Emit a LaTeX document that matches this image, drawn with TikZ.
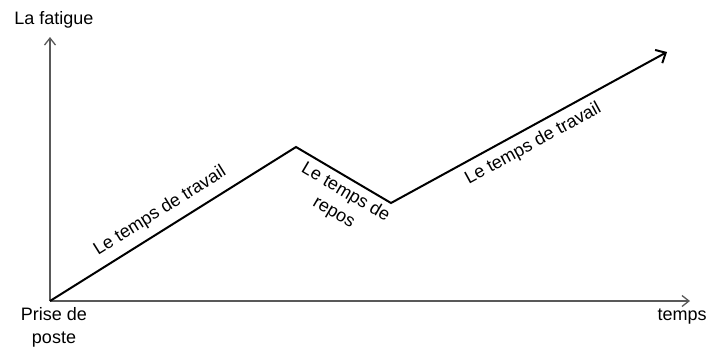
\documentclass[tikz,border=0pt]{standalone}
\usepackage{fontspec}
\setmainfont{Liberation Sans}
\usetikzlibrary{arrows.meta}
\begin{document}
\begin{tikzpicture}[x=1bp,y=-1bp,
  axisline/.style={draw=black!65, line width=1.3bp, -{Straight Barb[length=7bp,width=11bp]}},
  curveline/.style={draw=black, line width=2bp, line join=miter, -{Straight Barb[length=8bp,width=15bp]}},
  lbl/.style={font=\fontsize{18bp}{23bp}\selectfont, inner sep=0pt, text=black}]
\useasboundingbox (0,0) rectangle (710,349);
\coordinate (O) at (50,301);
\coordinate (Y) at (50,37);
\coordinate (X) at (690,301);
\coordinate (P) at (296,147);
\coordinate (V) at (391,203);
\coordinate (E) at (667,52);
\draw[axisline] (O) -- (Y);
\draw[axisline] (O) -- (X);
\draw[curveline] (O) -- node[lbl, sloped, pos=0.486, above=8.4bp] (l1) {Le temps de travail}
  (P) -- node[lbl, sloped, pos=0.597, below=5bp, align=center] (l2) {Le temps de\\repos}
  (V) -- node[lbl, sloped, pos=0.487, below=7.1bp] (l3) {Le temps de travail} (E);
\node[lbl] (yl) at (54,20) {La fatigue};
\node[lbl] (xl) at (682,317) {temps};
\node[lbl, align=center] (ol) at (54,327) {Prise de\\poste};
\end{tikzpicture}
\end{document}
